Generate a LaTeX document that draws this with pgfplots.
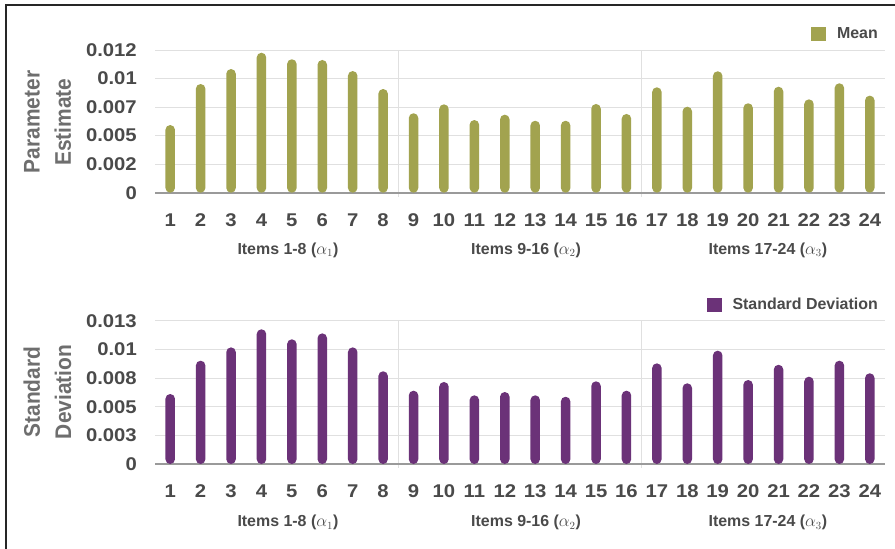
\documentclass[border=0pt]{standalone}
\usepackage{pgfplots}
\pgfplotsset{compat=1.18}
\usepackage{pgfplotstable}
\usepackage{fontspec}
\setmainfont{Liberation Sans}
\definecolor{meanc}{HTML}{A2A34F}
\definecolor{sdc}{HTML}{6B3278}
\definecolor{tickgray}{HTML}{4A4A4A}
\definecolor{labgray}{HTML}{6E6E6E}
\definecolor{gridgray}{HTML}{E0E0E0}
\definecolor{axgray}{HTML}{9A9A9A}

\pgfplotstableread{
item mean
1 0.00569
2 0.00914
3 0.01040
4 0.01177
5 0.01122
6 0.01116
7 0.01023
8 0.00872
9 0.00668
10 0.00743
11 0.00611
12 0.00656
13 0.00605
14 0.00605
15 0.00746
16 0.00662
17 0.00886
18 0.00723
19 0.01021
20 0.00752
21 0.00891
22 0.00785
23 0.00920
24 0.00816
}\meantable

\pgfplotstableread{
item sd
1 0.00635
2 0.00937
3 0.01058
4 0.01222
5 0.01131
6 0.01185
7 0.01058
8 0.00841
9 0.00665
10 0.00744
11 0.00623
12 0.00653
13 0.00623
14 0.00610
15 0.00750
16 0.00665
17 0.00913
18 0.00732
19 0.01028
20 0.00762
21 0.00900
22 0.00792
23 0.00937
24 0.00823
}\sdtable

\pgfplotsset{
  panel/.style={
    scale only axis, width=730bp, xmin=0.5, xmax=24.5, ymin=0,
    axis line style={draw=none},
    major tick length=0pt,
    scaled y ticks=false,
    ymajorgrids, major grid style={gridgray, line width=1bp},
    xtick={1,2,3,4,5,6,7,8,9,10,11,12,13,14,15,16,17,18,19,20,21,22,23,24},
    xticklabels={1,2,3,4,5,6,7,8,9,10,11,12,13,14,15,16,17,18,19,20,21,22,23,24},
    xticklabel style={font=\fontsize{18.5}{20}\selectfont\bfseries, text=tickgray, inner sep=0pt, anchor=north, xscale=1.1},
    xticklabel shift=20.5bp,
    yticklabel style={font=\fontsize{18.5}{20}\selectfont\bfseries, text=tickgray, inner sep=0pt, anchor=east, xscale=1.1},
    yticklabel shift=18bp,
    clip=false,
    legend style={draw=none, fill=none, at={(1,1)}, anchor=east, xshift=-7bp, yshift=16bp,
      font=\fontsize{16}{18}\selectfont\bfseries, text=tickgray, inner sep=0pt,
      nodes={inner sep=0pt}, column sep=11bp},
  },
}
\tikzset{grp/.style={anchor=base, font=\fontsize{16}{18}\selectfont\bfseries, text=tickgray}}

\begin{document}
\begin{tikzpicture}
\useasboundingbox (0,0) rectangle (895bp,-549bp);
\fill[white] (0,0) rectangle (895bp,-549bp);
\draw[line width=2.2bp, black!85] (6bp,-549bp) -- (6bp,-5bp) -- (895bp,-5bp);

\node[rotate=90, yscale=1.08, align=center, font=\fontsize{21}{29}\selectfont\bfseries, text=labgray] at (47.5bp,-122bp) {Parameter\\Estimate};
\node[rotate=90, yscale=1.08, align=center, font=\fontsize{21}{29}\selectfont\bfseries, text=labgray] at (47.5bp,-392bp) {Standard\\Deviation};

\begin{axis}[panel, at={(155bp,-192.7bp)}, anchor=south west, height=142.7bp,
  ymax=0.012, ytick={0,0.0024,0.0048,0.0072,0.0096,0.012},
  yticklabels={0,0.002,0.005,0.007,0.01,0.012}]
  \draw[gridgray, line width=1bp] (axis cs:8.5,0.012) -- ([yshift=-4bp]axis cs:8.5,0);
  \draw[gridgray, line width=1bp] (axis cs:16.5,0.012) -- ([yshift=-4bp]axis cs:16.5,0);
  \draw[axgray, line width=2bp] (axis cs:0.5,0) -- (axis cs:24.5,0);
  \addplot[ybar, bar width=9.5bp, fill=meanc, draw=none, rounded corners=4.7bp,
    legend image code/.code={\fill[meanc, sharp corners] (0bp,-7bp) rectangle (15bp,7bp);}]
    table[x=item, y=mean] {\meantable};
  \addlegendentry{Mean}
  \node[grp] at ([yshift=-61.5bp]axis cs:4.87,0) {Items 1-8 ($\alpha_1$)};
  \node[grp] at ([yshift=-61.5bp]axis cs:12.7,0) {Items 9-16 ($\alpha_2$)};
  \node[grp] at ([yshift=-61.5bp]axis cs:20.65,0) {Items 17-24 ($\alpha_3$)};
\end{axis}

\begin{axis}[panel, at={(155bp,-464bp)}, anchor=south west, height=143.3bp,
  ymax=0.013, ytick={0,0.0026,0.0052,0.0078,0.0104,0.013},
  yticklabels={0,0.003,0.005,0.008,0.01,0.013}]
  \draw[gridgray, line width=1bp] (axis cs:8.5,0.013) -- ([yshift=-4bp]axis cs:8.5,0);
  \draw[gridgray, line width=1bp] (axis cs:16.5,0.013) -- ([yshift=-4bp]axis cs:16.5,0);
  \draw[axgray, line width=2bp] (axis cs:0.5,0) -- (axis cs:24.5,0);
  \addplot[ybar, bar width=9.5bp, fill=sdc, draw=none, rounded corners=4.7bp,
    legend image code/.code={\fill[sdc, sharp corners] (0bp,-7bp) rectangle (15bp,7bp);}]
    table[x=item, y=sd] {\sdtable};
  \addlegendentry{Standard Deviation}
  \node[grp] at ([yshift=-62.5bp]axis cs:4.87,0) {Items 1-8 ($\alpha_1$)};
  \node[grp] at ([yshift=-62.5bp]axis cs:12.7,0) {Items 9-16 ($\alpha_2$)};
  \node[grp] at ([yshift=-62.5bp]axis cs:20.65,0) {Items 17-24 ($\alpha_3$)};
\end{axis}
\end{tikzpicture}
\end{document}
